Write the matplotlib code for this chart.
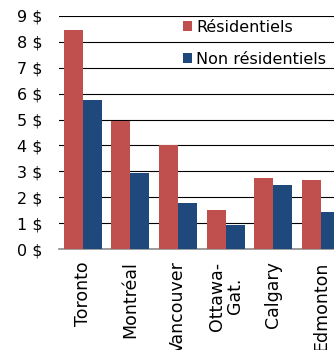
import numpy as np
from matplotlib import pyplot as plt

villes = ["Toronto", "Montréal", "Vancouver", "Ottawa-\nGat.", "Calgary", "Edmonton"]
residentiels = [8.45, 4.95, 4.0, 1.5, 2.73, 2.65]
non_residentiels = [5.75, 2.92, 1.76, 0.94, 2.46, 1.43]
yticks = [0, 1, 2, 3, 4, 5, 6, 7, 8, 9]

plt.rcParams['font.family'] = 'DejaVu Sans'
plt.rcParams['font.size'] = 11.5

W, H = 334, 350
fig = plt.figure(figsize=(W/100, H/100), dpi=100)
# axes run past the right edge so the last bar is cut off
ax = fig.add_axes([59/W, 101/H, 285.6/W, 233/H])

x = np.arange(len(villes))
w = 0.4
ax.bar(x - w/2, residentiels, w, color='#C0504D', label='Résidentiels', zorder=3)
ax.bar(x + w/2, non_residentiels, w, color='#1F497D', label='Non résidentiels', zorder=3)

ax.set_xlim(-0.5, len(villes) - 0.5)
ax.set_ylim(0, 9)
ax.set_yticks(yticks)
ax.set_yticklabels([f"{v} $" for v in yticks])
ax.set_xticks(x)
ax.set_xticklabels(villes, rotation=90, va='top', ha='center', multialignment='center',
                   fontsize=12.5, linespacing=1.0)
ax.tick_params(axis='y', length=0, pad=12)
ax.tick_params(axis='x', length=0, pad=9)

ax.yaxis.grid(True, color='black', linewidth=0.8, zorder=0)
ax.set_axisbelow(True)
for s in ['top', 'right', 'left']:
    ax.spines[s].set_visible(False)
ax.spines['bottom'].set_color('#8c8c8c')
ax.spines['bottom'].set_linewidth(1.2)

fig.legend(loc='upper left', bbox_to_anchor=(183/W, 1 - 20/H), frameon=False,
           borderpad=0, borderaxespad=0, handlelength=0.58, handleheight=0.58,
           handletextpad=0.25, labelspacing=1.05)

fig.savefig('out.png', dpi=100)
